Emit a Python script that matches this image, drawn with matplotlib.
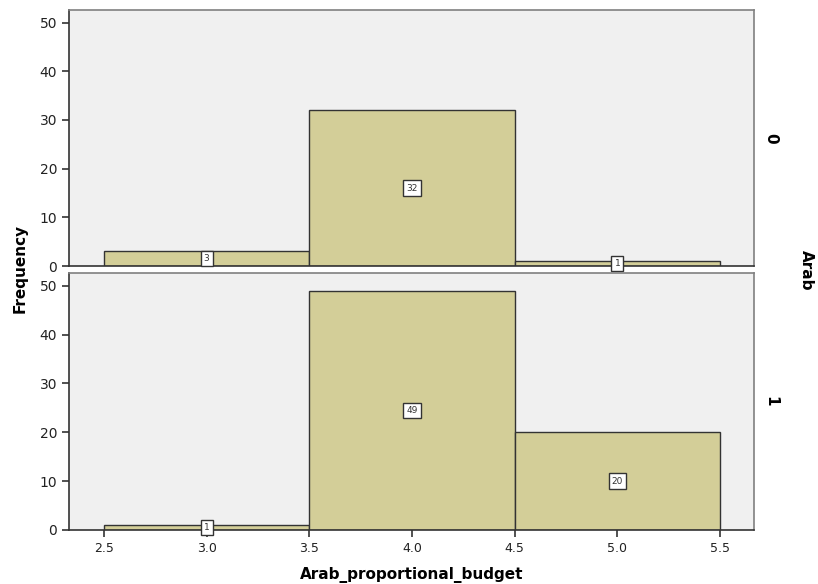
import matplotlib
matplotlib.use("Agg")
import matplotlib.pyplot as plt

bin_edges = [2.5, 3.5, 4.5, 5.5]
groups = ["0", "1"]
counts = {"0": [3, 32, 1], "1": [1, 49, 20]}
x_ticks = [2.5, 3.0, 3.5, 4.0, 4.5, 5.0, 5.5]
y_ticks = [0, 10, 20, 30, 40, 50]

plt.rcParams['font.family'] = ['DejaVu Sans']
fig = plt.figure(figsize=(8.18, 5.84), dpi=100)
bar_color = "#D3CE98"
bg = "#F0F0F0"

positions = [[0.0844, 0.5445, 0.8374, 0.4384], [0.0844, 0.0925, 0.8374, 0.44]]
for gi, g in enumerate(groups):
    ax = fig.add_axes(positions[gi])
    ax.set_facecolor(bg)
    vals = counts[g]
    lefts = bin_edges[:-1]
    widths = [bin_edges[i + 1] - bin_edges[i] for i in range(len(vals))]
    ax.bar(lefts, vals, width=widths, align='edge', color=bar_color,
           edgecolor="#333333", linewidth=1.0, zorder=2)
    for l, w, v in zip(lefts, widths, vals):
        ax.text(l + w / 2, v / 2, str(v), ha='center', va='center', fontsize=6.5,
                color="#333333", zorder=3,
                bbox=dict(boxstyle='square,pad=0.35', fc='white', ec='#333333', lw=1.0))
    ax.set_xlim(2.33, 5.665)
    ax.set_ylim(0, 52.6)
    ax.set_yticks(y_ticks)
    ax.set_yticklabels([str(t) for t in y_ticks], fontsize=10, color="#222222")
    ax.tick_params(axis='y', direction='out', length=5, width=1.2, color="#333333")
    for s in ['left', 'bottom']:
        ax.spines[s].set_color("#333333")
        ax.spines[s].set_linewidth(1.2)
    for s in ['top', 'right']:
        ax.spines[s].set_color("#808080")
        ax.spines[s].set_linewidth(1.2)
    if gi == 1:
        ax.set_xticks(x_ticks)
        ax.set_xticklabels([f"{t:.1f}" for t in x_ticks], fontsize=9, color="#222222")
        ax.tick_params(axis='x', direction='out', length=5, width=1.2, color="#333333")
        ax.set_xlabel("Arab_proportional_budget", fontsize=11, fontweight='bold', labelpad=9)
    else:
        ax.set_xticks([])
    ax.text(1.024, 0.5, g, transform=ax.transAxes, rotation=-90, ha='center', va='center',
            fontsize=11, fontweight='bold')

fig.text(0.986, 0.538, "Arab", rotation=-90, ha='center', va='center', fontsize=11, fontweight='bold')
fig.text(0.024, 0.54, "Frequency", rotation=90, ha='center', va='center', fontsize=11, fontweight='bold')

fig.savefig("out.png", dpi=100)
